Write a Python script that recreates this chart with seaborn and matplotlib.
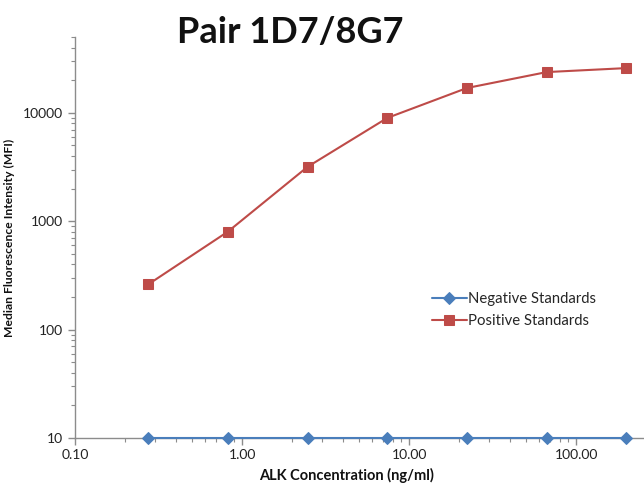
import matplotlib
matplotlib.use("Agg")
import matplotlib.pyplot as plt
import matplotlib.ticker as mticker
import seaborn as sns
import pandas as pd

concentration = [0.274, 0.823, 2.47, 7.41, 22.2, 66.7, 200.0]
negative_mfi = [10, 10, 10, 10, 10, 10, 10]
positive_mfi = [261, 802, 3180, 8980, 16950, 23780, 25880]
series_names = ["Negative Standards", "Positive Standards"]
x_ticks = [0.1, 1, 10, 100]
x_tick_labels = ["0.10", "1.00", "10.00", "100.00"]
y_ticks = [10, 100, 1000, 10000]
y_tick_labels = ["10", "100", "1000", "10000"]

sns.set_theme(style="white")
plt.rcParams['font.family'] = ['Lato', 'DejaVu Sans']

fig = plt.figure(figsize=(6.44, 4.83), dpi=100)
ax = fig.add_axes([0.1165, 0.0932, 0.8835, 0.830])

df = pd.DataFrame({
    "conc": concentration * 2,
    "mfi": negative_mfi + positive_mfi,
    "series": [series_names[0]] * len(concentration) + [series_names[1]] * len(concentration),
})

blue = "#4A7EBB"
red = "#BE4B48"
sns.lineplot(data=df[df.series == series_names[0]], x="conc", y="mfi", ax=ax,
             color=blue, marker="D", markersize=6, markeredgecolor=blue,
             linewidth=1.5, label=series_names[0], clip_on=False, zorder=3)
sns.lineplot(data=df[df.series == series_names[1]], x="conc", y="mfi", ax=ax,
             color=red, marker="s", markersize=7, markeredgecolor=red,
             linewidth=1.5, label=series_names[1], clip_on=False, zorder=3)

ax.set_xscale("log")
ax.set_yscale("log")
ax.set_xlim(0.1, 255)
ax.set_ylim(10, 50000)

ax.set_xticks(x_ticks)
ax.set_xticklabels(x_tick_labels)
ax.set_yticks(y_ticks)
ax.set_yticklabels(y_tick_labels)
ax.xaxis.set_minor_locator(mticker.LogLocator(base=10, subs=range(2, 10)))
ax.yaxis.set_minor_locator(mticker.LogLocator(base=10, subs=range(2, 10)))
ax.xaxis.set_minor_formatter(mticker.NullFormatter())
ax.yaxis.set_minor_formatter(mticker.NullFormatter())

for s in ["top", "right"]:
    ax.spines[s].set_visible(False)
for s in ["left", "bottom"]:
    ax.spines[s].set_color("#8C8C8C")
    ax.spines[s].set_linewidth(1.0)

ax.tick_params(axis="both", which="major", direction="out", length=5, width=1,
               color="#8C8C8C", labelsize=10, labelcolor="#222222", bottom=True, left=True)
ax.tick_params(axis="both", which="minor", direction="out", length=3, width=0.8,
               color="#8C8C8C", bottom=True, left=True)
ax.tick_params(axis="x", which="major", pad=3)

ax.set_xlabel("ALK Concentration (ng/ml)", fontsize=10.5, fontweight="bold", labelpad=3, color="#111111")
ax.xaxis.set_label_coords(0.478, -0.075)
ax.set_ylabel("Median Fluorescence Intensity (MFI)", fontsize=8.7, fontweight="bold", labelpad=6, color="#111111")

fig.text(0.45, 0.932, "Pair 1D7/8G7", fontsize=26, fontweight="bold", ha="center", va="center", color="#111111")

leg = ax.legend(loc="center left", bbox_to_anchor=(0.628, 0.319), frameon=False, fontsize=10.7,
                handlelength=2.3, handletextpad=0.1, labelspacing=0.55, borderaxespad=0, borderpad=0)

fig.savefig("out.png", dpi=100)
